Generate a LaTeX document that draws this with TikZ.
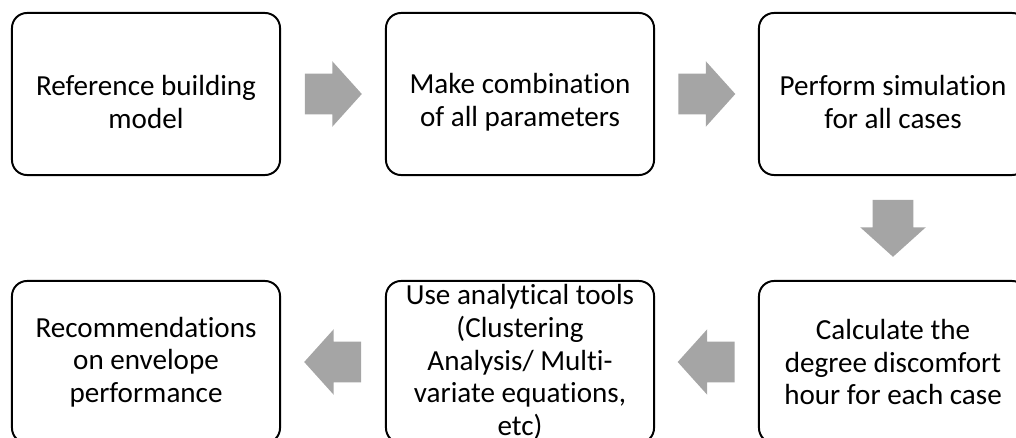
\documentclass[tikz,border=0pt]{standalone}
\usepackage{fontspec}
\setmainfont{Carlito}[Ligatures=NoCommon]
\usetikzlibrary{shapes.arrows,calc}
\definecolor{arrowgray}{HTML}{A5A5A5}
\newcommand\topstrut{\rule{0pt}{26pt}}
\begin{document}
\begin{tikzpicture}[x=0.025cm,y=-0.025cm,line join=round,
  stepbox/.style={draw,line width=1.4pt,rounded corners=10.7pt,minimum width=6.7cm,minimum height=4.05cm,
    inner sep=0pt,align=center,font=\fontsize{20.7}{23.2}\selectfont},
  blockarrow/.style={single arrow,fill=arrowgray,inner xsep=0pt,inner ysep=0.5cm,minimum height=1.425cm,
    single arrow head extend=0.3125cm,single arrow tip angle=96,anchor=tail}]
  \path[use as bounding box,clip] (0,0) rectangle (1016,438);
  \def\ra{94}
  \def\rb{362}
  \def\half{28.5}
  \node[stepbox] (ref) at (146,\ra) {\topstrut Reference building\\model};
  \node[stepbox] (comb) at (520,\ra) {\topstrut Make combination\\of all parameters};
  \node[stepbox] (sim) at (893,\ra) {\topstrut Perform simulation\\for all cases};
  \node[stepbox] (disc) at (893,\rb) {Calculate the\\degree discomfort\\hour for each case};
  \node[stepbox] (tools) at (520,\rb) {Use analytical tools\\(Clustering\\Analysis/ Multi-\\variate equations,\\etc)};
  \node[stepbox] (recom) at (146,\rb) {Recommendations\\on envelope\\performance};
  \node[blockarrow] (a1) at ($(ref.east)!0.5!(comb.west)+(-\half,0)$) {};
  \node[blockarrow] (a2) at ($(comb.east)!0.5!(sim.west)+(-\half,0)$) {};
  \node[blockarrow,rotate=-90] (a3) at ($(sim.south)!0.5!(disc.north)+(0,-\half)$) {};
  \node[blockarrow,rotate=180] (a4) at ($(disc.west)!0.5!(tools.east)+(\half,0)$) {};
  \node[blockarrow,rotate=180] (a5) at ($(tools.west)!0.5!(recom.east)+(\half,0)$) {};
\end{tikzpicture}
\end{document}
